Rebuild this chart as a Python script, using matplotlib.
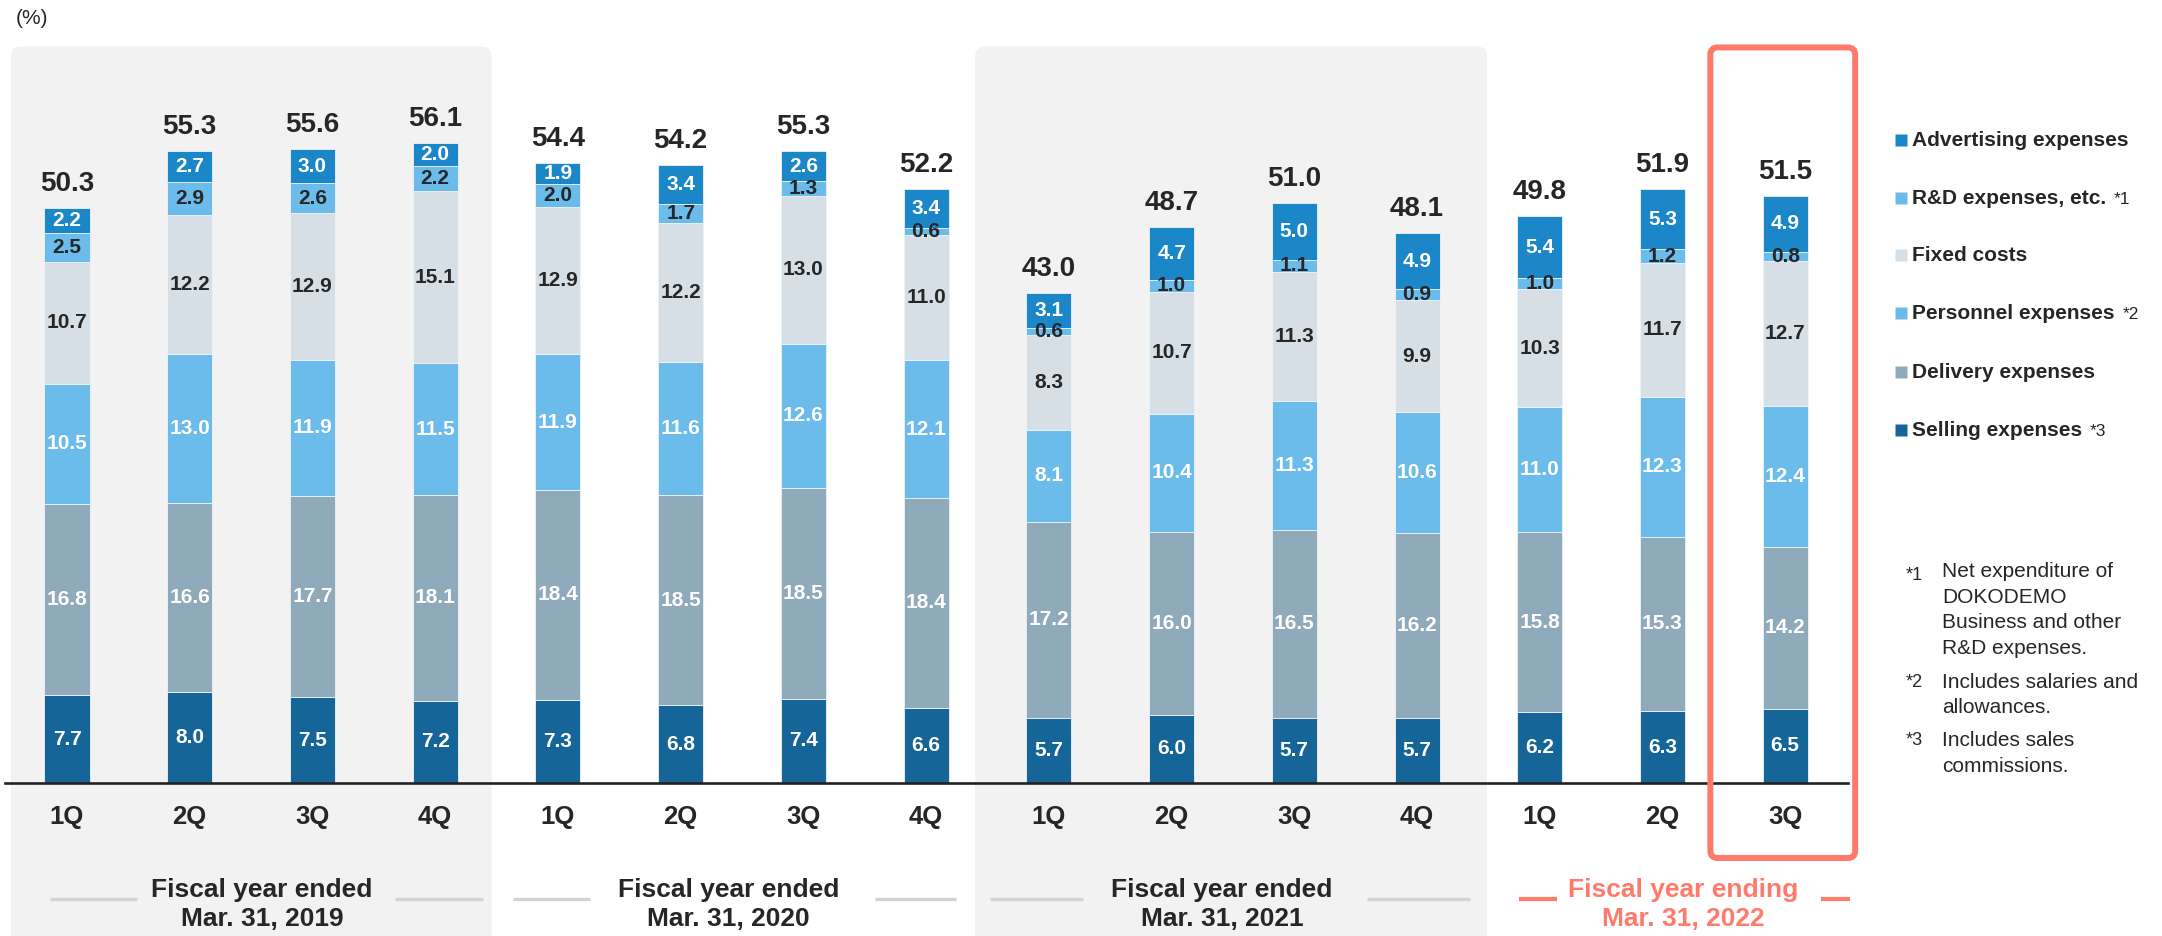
import matplotlib
matplotlib.use("Agg")
import matplotlib.pyplot as plt
from matplotlib.patches import FancyBboxPatch

plt.rcParams['font.family'] = ['Liberation Sans', 'DejaVu Sans']

# data (% of net sales), bottom to top
quarters = ['1Q', '2Q', '3Q', '4Q', '1Q', '2Q', '3Q', '4Q', '1Q', '2Q', '3Q', '4Q', '1Q', '2Q', '3Q']
selling = [7.7, 8.0, 7.5, 7.2, 7.3, 6.8, 7.4, 6.6, 5.7, 6.0, 5.7, 5.7, 6.2, 6.3, 6.5]
delivery = [16.8, 16.6, 17.7, 18.1, 18.4, 18.5, 18.5, 18.4, 17.2, 16.0, 16.5, 16.2, 15.8, 15.3, 14.2]
personnel = [10.5, 13.0, 11.9, 11.5, 11.9, 11.6, 12.6, 12.1, 8.1, 10.4, 11.3, 10.6, 11.0, 12.3, 12.4]
fixed = [10.7, 12.2, 12.9, 15.1, 12.9, 12.2, 13.0, 11.0, 8.3, 10.7, 11.3, 9.9, 10.3, 11.7, 12.7]
rnd = [2.5, 2.9, 2.6, 2.2, 2.0, 1.7, 1.3, 0.6, 0.6, 1.0, 1.1, 0.9, 1.0, 1.2, 0.8]
advert = [2.2, 2.7, 3.0, 2.0, 1.9, 3.4, 2.6, 3.4, 3.1, 4.7, 5.0, 4.9, 5.4, 5.3, 4.9]
totals = [50.3, 55.3, 55.6, 56.1, 54.4, 54.2, 55.3, 52.2, 43.0, 48.7, 51.0, 48.1, 49.8, 51.9, 51.5]

years = ['Fiscal year ended\nMar. 31, 2019', 'Fiscal year ended\nMar. 31, 2020',
         'Fiscal year ended\nMar. 31, 2021', 'Fiscal year ending\nMar. 31, 2022']

series = [
    ('Selling expenses', '*3', selling, '#166598', 'white'),
    ('Delivery expenses', '', delivery, '#8FAABB', 'white'),
    ('Personnel expenses', '*2', personnel, '#6BBBEB', 'white'),
    ('Fixed costs', '', fixed, '#D5DFE5', '#262626'),
    ('R&D expenses, etc.', '*1', rnd, '#6BBBEB', '#262626'),
    ('Advertising expenses', '', advert, '#1B87C9', 'white'),
]

DARK = '#262626'
RED = '#FF7A6A'

fig = plt.figure(figsize=(21.62, 9.36), dpi=100)
ax = fig.add_axes([0, 0, 1, 1])
ax.set_xlim(-0.546, 17.07)
ax.set_ylim(-13.42, 68.68)
ax.axis('off')

# shaded fiscal-year backgrounds
for x0, x1 in [(-0.456, 3.46), (7.40, 11.57)]:
    ax.add_patch(FancyBboxPatch((x0, -20), x1 - x0, 84.6,
                                boxstyle='round,pad=0,rounding_size=0.08',
                                mutation_aspect=10.76, fc='#F2F2F2', ec='none', zorder=0))

x = list(range(len(quarters)))
bottom = [0.0] * len(x)
for name, note, vals, col, tcol in series:
    ax.bar(x, vals, 0.367, bottom=bottom, color=col, edgecolor='#EEF3F7',
           linewidth=0.6, zorder=2)
    for i, v in enumerate(vals):
        ax.text(i, bottom[i] + v / 2, f'{v:.1f}', ha='center', va='center',
                fontsize=15, fontweight='bold', color=tcol, zorder=3)
    bottom = [b + v for b, v in zip(bottom, vals)]

for i, t in enumerate(totals):
    ax.text(i, bottom[i] + 1.5, f'{t:.1f}', ha='center', va='baseline',
            fontsize=20, fontweight='bold', color=DARK, zorder=3)

ax.plot([-0.505, 14.51], [0, 0], color='#222222', lw=1.9, zorder=4)

for i, q in enumerate(quarters):
    ax.text(i, -2.98, q, ha='center', va='center', fontsize=18.5,
            fontweight='bold', color=DARK)

year_x = [1.59, 5.39, 9.41, 13.17]
dashes = [[(-0.14, 0.57), (2.67, 3.39)], [(3.63, 4.26), (6.58, 7.24)],
          [(7.52, 8.28), (10.59, 11.43)], [(11.83, 12.14), (14.29, 14.53)]]
for k, lab in enumerate(years):
    c = RED if k == 3 else DARK
    ax.text(year_x[k], -10.65, lab, ha='center', va='center', fontsize=19,
            fontweight='bold', color=c, linespacing=1.3)
    for d0, d1 in dashes[k]:
        ax.plot([d0, d1], [-10.15, -10.15], color=RED if k == 3 else '#D3D3D3',
                lw=3 if k == 3 else 2.4, solid_capstyle='butt')

# highlight box around latest quarter
ax.add_patch(FancyBboxPatch((13.39, -6.58), 1.18, 71.1,
                            boxstyle='round,pad=0,rounding_size=0.06',
                            mutation_aspect=10.76, fc='none', ec=RED, lw=4.3, zorder=5))

ax.text(-0.42, 67.1, '(%)', ha='left', va='center', fontsize=15, color=DARK)

# legend
leg_y = [56.4, 51.3, 46.3, 41.2, 36.05, 30.96]
for (name, note, vals, col, tcol), yy in zip(reversed(series), leg_y):
    ax.plot([14.94], [yy], marker='s', ms=8.6, color=col, mec='none')
    t = ax.text(15.03, yy, name, ha='left', va='center', fontsize=15,
                fontweight='bold', color=DARK)
    if note:
        ax.annotate(note, xy=(1, 0.5), xycoords=t, xytext=(6, -1),
                    textcoords='offset points', ha='left', va='center',
                    fontsize=12.5, color=DARK)

notes = [('*1', 'Net expenditure of\nDOKODEMO\nBusiness and other\nR&D expenses.', 15.18, 18.2),
         ('*2', 'Includes salaries and\nallowances.', 7.72, 8.85),
         ('*3', 'Includes sales\ncommissions.', 2.59, 3.73)]
for mark, txt, yc, ytop in notes:
    ax.text(15.28, yc, txt, ha='left', va='center', fontsize=15, color=DARK,
            linespacing=1.45)
    ax.text(14.98, ytop, mark, ha='left', va='center', fontsize=13, color=DARK)

fig.savefig('out.png', dpi=100)
